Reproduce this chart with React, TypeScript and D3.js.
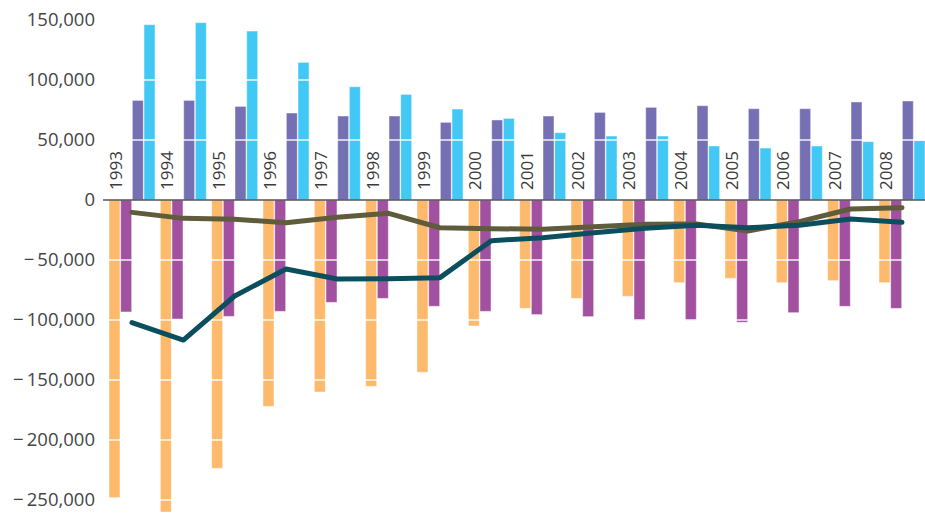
import React from "react";
import * as d3 from "d3";

const years = ["1993","1994","1995","1996","1997","1998","1999","2000","2001","2002","2003","2004","2005","2006","2007","2008"];
const seriesOrange = [-248000,-260000,-223600,-172000,-160000,-155300,-143600,-105000,-90300,-82000,-80300,-68900,-65300,-68900,-67200,-68900];
const seriesMagenta = [-93300,-99200,-97000,-92800,-85300,-82000,-88600,-92800,-95500,-97200,-100300,-100300,-101900,-93900,-88600,-90300];
const seriesViolet = [83000,83000,78000,72500,70000,70000,64700,66700,70000,73000,77200,78600,76100,76100,81700,82500];
const seriesBlue = [146100,147800,140800,114700,94400,88000,75800,68000,56100,53300,53300,45000,43300,45000,48600,49500];
const lineOlive = [-10300,-15300,-16100,-18900,-14400,-11100,-23100,-23900,-24400,-22200,-20300,-20000,-25800,-18000,-7500,-6400];
const lineTeal = [-102200,-116700,-80000,-57500,-65800,-65600,-64700,-33900,-31400,-27200,-23600,-21100,-23100,-21100,-15800,-18600];
const yTicks = [150000,100000,50000,0,-50000,-100000,-150000,-200000,-250000];

const barSeries = [
  { key: "orange", values: seriesOrange, color: "#fdba6d" },
  { key: "magenta", values: seriesMagenta, color: "#a1519f" },
  { key: "violet", values: seriesViolet, color: "#7570b3" },
  { key: "blue", values: seriesBlue, color: "#41c8f4" },
];

const W = 925, H = 513;

export default function App() {
  const y = d3.scaleLinear().domain([-250000, 150000]).range([500, 20]);
  const x = d3.scaleBand().domain(years).range([109, 925]).paddingInner(0.104).paddingOuter(0);
  const x1 = d3.scaleBand().domain(barSeries.map(s => s.key)).range([0, x.bandwidth()]).paddingInner(0.06);
  const fmt = (v: number) => (v < 0 ? "\u2212\u2009" : "") + d3.format(",")(Math.abs(v));
  const line = d3.line<number>()
    .x((_, i) => (x(years[i]) as number) + x.bandwidth() / 2)
    .y(v => y(v));

  return (
    <svg width={W} height={H} style={{ position: "absolute", left: 0, top: 0, background: "#fff" }}
      fontFamily="'Open Sans', sans-serif">
      <g>
        {barSeries.map(s => (
          <g key={s.key}>
            {s.values.map((v, i) => (
              <rect key={i}
                x={(x(years[i]) as number) + (x1(s.key) as number)}
                y={Math.min(y(v), y(0))}
                width={x1.bandwidth()}
                height={Math.abs(y(v) - y(0))}
                fill={s.color}
                stroke="#ffffff" strokeOpacity={0.45} strokeWidth={1} />
            ))}
          </g>
        ))}
      </g>
      <g>
        {yTicks.filter(t => t !== 0).map(t => (
          <line key={t} x1={103} x2={W} y1={y(t)} y2={y(t)} stroke="#ffffff" strokeWidth={1.5} strokeOpacity={0.9} />
        ))}
      </g>
      <line x1={103} x2={W} y1={y(0)} y2={y(0)} stroke="#555" strokeWidth={1.5} />
      <g fill="#454545" fontSize={18.5} textAnchor="end">
        {yTicks.map(t => (
          <text key={t} x={95} y={y(t)} dy="0.35em">{fmt(t)}</text>
        ))}
      </g>
      <g fill="#3a3a3a" fontSize={17}>
        {years.map(yr => {
          const tx = (x(yr) as number) + 13;
          const ty = y(0) - 10;
          return (
            <text key={yr} transform={`translate(${tx},${ty}) rotate(-90)`} textAnchor="start">{yr}</text>
          );
        })}
      </g>
      <path d={line(lineOlive) || ""} fill="none" stroke="#5e5c3b" strokeWidth={5} strokeLinecap="round" strokeLinejoin="round" />
      <path d={line(lineTeal) || ""} fill="none" stroke="#0b4f5e" strokeWidth={5} strokeLinecap="round" strokeLinejoin="round" />
    </svg>
  );
}
